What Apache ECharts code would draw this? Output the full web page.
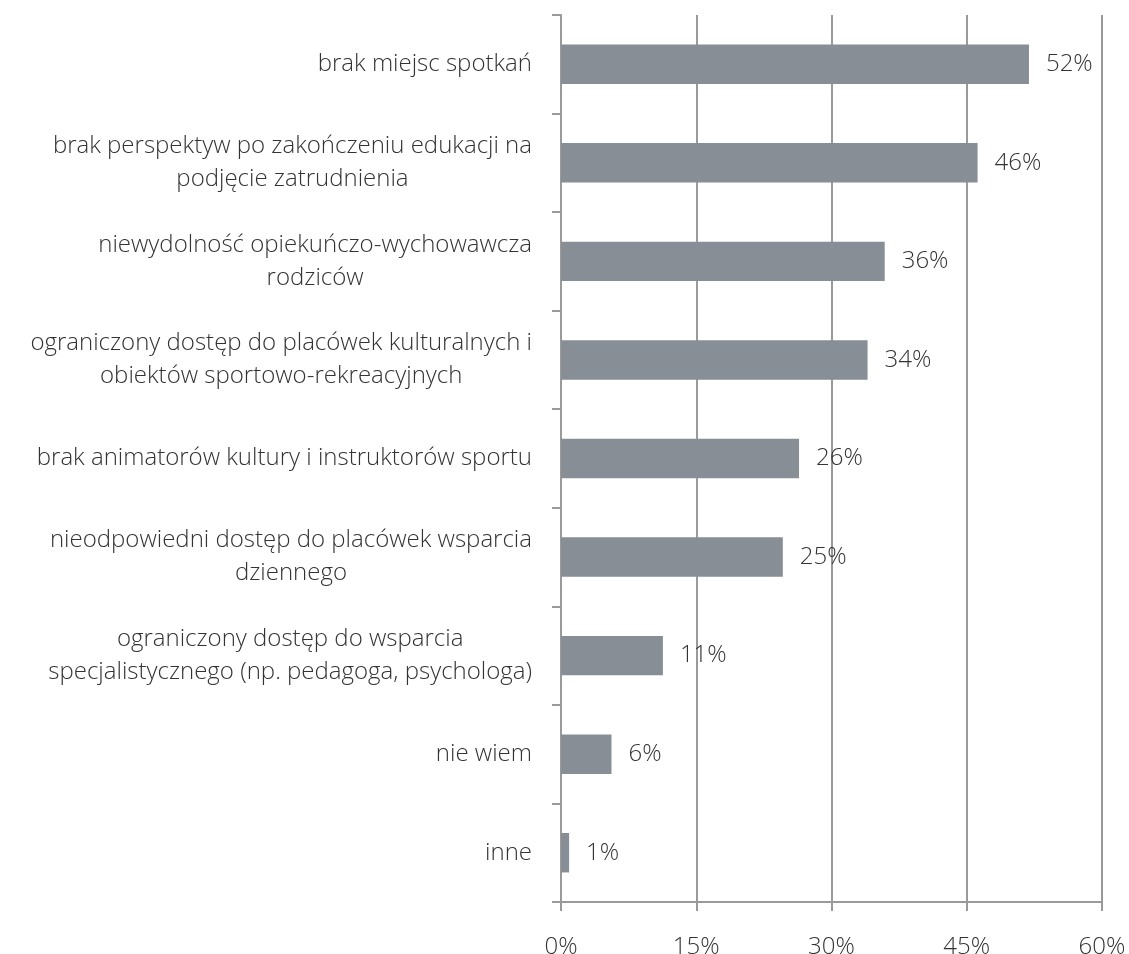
<!DOCTYPE html>
<html>
<head>
  <meta charset="utf-8">
  <script src="https://cdn.jsdelivr.net/npm/echarts@6/dist/echarts.min.js"></script>
  <style>
    html, body { margin: 0; padding: 0; background: #fff; }
    #chart { width: 1129px; height: 954px; }
  </style>
</head>
<body>
  <div id="chart"></div>
  <script>
    const categories = [
      'brak miejsc spotkań',
      'brak perspektyw po zakończeniu edukacji na\npodjęcie zatrudnienia',
      'niewydolność opiekuńczo-wychowawcza\nrodziców',
      'ograniczony dostęp do placówek kulturalnych i\nobiektów sportowo-rekreacyjnych',
      'brak animatorów kultury i instruktorów sportu',
      'nieodpowiedni dostęp do placówek wsparcia\ndziennego',
      'ograniczony dostęp do wsparcia\nspecjalistycznego (np. pedagoga, psychologa)',
      'nie wiem',
      'inne'
    ];
    const values = [51.9, 46.2, 35.9, 34.0, 26.4, 24.6, 11.3, 5.6, 0.9];
    const xTicks = [0, 15, 30, 45, 60];

    const font = '"Open Sans", "Noto Sans", sans-serif';
    const textColor = '#333333';
    const lineColor = '#9a9a9a';

    let chart = echarts.init(document.getElementById('chart'));
    chart.setOption({
      animation: false,
      grid: {
        left: 561, right: 27, top: 15, bottom: 52,
        containLabel: false,
        outerBoundsMode: 'none'
      },
      xAxis: {
        type: 'value',
        min: xTicks[0],
        max: xTicks[xTicks.length - 1],
        interval: 15,
        axisLine: { show: true, lineStyle: { color: lineColor, width: 2 } },
        axisTick: { show: true, length: 9, lineStyle: { color: lineColor, width: 2 } },
        splitLine: { show: true, lineStyle: { color: lineColor, width: 2 } },
        axisLabel: {
          margin: 33,
          fontSize: 24,
          fontWeight: 300,
          fontFamily: font,
          color: textColor,
          formatter: v => v + '%'
        }
      },
      yAxis: {
        type: 'category',
        data: categories,
        inverse: true,
        axisLine: { show: true, lineStyle: { color: lineColor, width: 2 } },
        axisTick: { show: true, length: 9, lineStyle: { color: lineColor, width: 2 } },
        axisLabel: {
          margin: 29,
          align: 'right',
          formatter: v => v.split('\n').map(l => '{c|' + l + '}').join('\n'),
          rich: {
            c: {
              align: 'center',
              fontSize: 24,
              fontWeight: 300,
              fontFamily: font,
              color: textColor,
              lineHeight: 33
            }
          }
        }
      },
      series: [{
        type: 'bar',
        data: values,
        barCategoryGap: '60%',
        itemStyle: { color: '#878e95' },
        label: {
          show: true,
          position: 'right',
          distance: 17,
          fontSize: 24,
          fontWeight: 300,
          fontFamily: font,
          color: textColor,
          formatter: p => Math.round(p.value) + '%'
        }
      }]
    });
  </script>
</body>
</html>
